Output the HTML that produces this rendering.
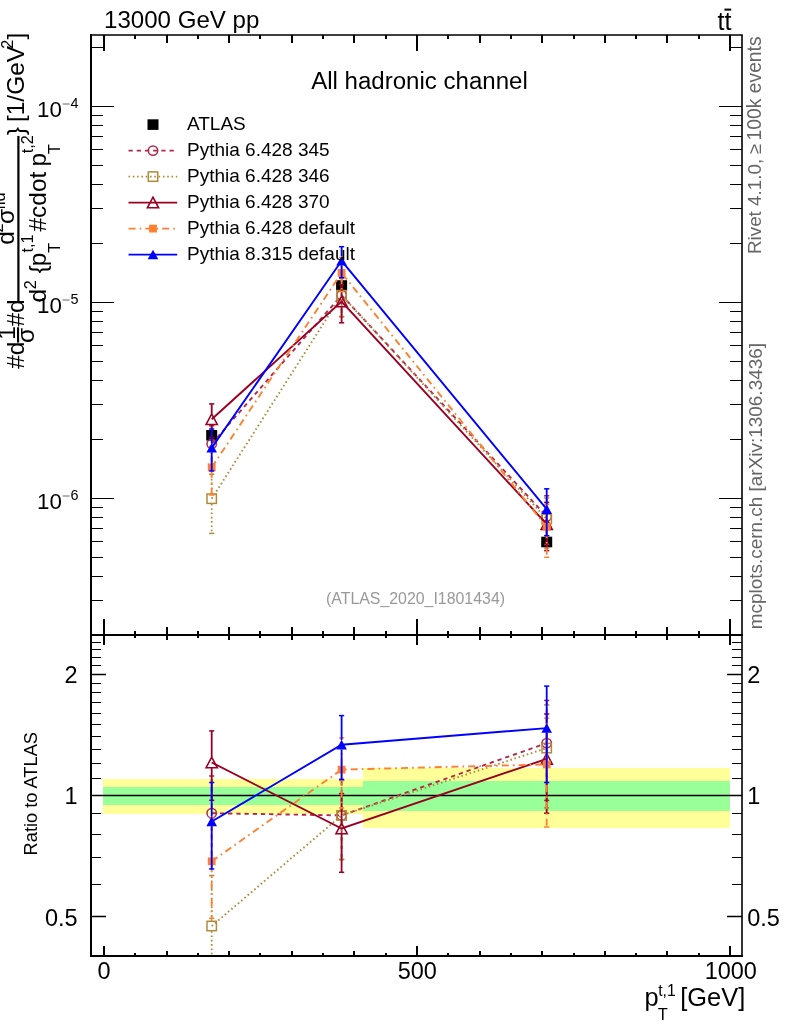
<!DOCTYPE html>
<html lang="en"><head><meta charset="utf-8"><title>ATLAS_2020_I1801434 - All hadronic channel</title>
<style>html,body{margin:0;padding:0;background:#fff}svg{display:block}text{font-family:"Liberation Sans", Arial, Helvetica, sans-serif;fill:#000}</style>
</head><body>
<svg width="786" height="1024" viewBox="0 0 786 1024">
<rect x="0" y="0" width="786" height="1024" fill="#fff"/>
<defs>
<clipPath id="cm"><rect x="91.0" y="35.0" width="651.0" height="600.0"/></clipPath>
<clipPath id="cr"><rect x="91.0" y="635.0" width="651.0" height="321.0"/></clipPath>
</defs>
<g shape-rendering="crispEdges">
<rect x="103" y="779" width="260" height="34.7" fill="#ffff99"/>
<rect x="363" y="768" width="367" height="59.8" fill="#ffff99"/>
<rect x="103" y="787" width="260" height="17.5" fill="#99ff99"/>
<rect x="363" y="781" width="367" height="29.7" fill="#99ff99"/>
</g>
<line x1="91.0" y1="795.5" x2="742.0" y2="795.5" stroke="#000" stroke-width="1.4"/>
<g id="main-data">
<rect x="206.2" y="430.0" width="11" height="10.6" fill="#000"/>
<rect x="336.1" y="280.2" width="11" height="10.6" fill="#000"/>
<rect x="541.2" y="536.7" width="11" height="10.6" fill="#000"/>
<g clip-path="url(#cm)">
<polyline points="211.7,443.9 341.6,295.2 546.7,516.5" fill="none" stroke="#b0284c" stroke-width="1.9" stroke-dasharray="4.3 3.9"/>
<line x1="211.7" y1="438.7" x2="211.7" y2="425.8" stroke="#b0284c" stroke-width="1.8" stroke-dasharray="4.3 3.9"/>
<line x1="211.7" y1="449.1" x2="211.7" y2="466.9" stroke="#b0284c" stroke-width="1.8" stroke-dasharray="4.3 3.9"/>
<line x1="209.1" y1="425.8" x2="214.3" y2="425.8" stroke="#b0284c" stroke-width="1.5"/>
<line x1="209.1" y1="466.9" x2="214.3" y2="466.9" stroke="#b0284c" stroke-width="1.5"/>
<line x1="341.6" y1="290.0" x2="341.6" y2="278.2" stroke="#b0284c" stroke-width="1.8" stroke-dasharray="4.3 3.9"/>
<line x1="341.6" y1="300.4" x2="341.6" y2="316.6" stroke="#b0284c" stroke-width="1.8" stroke-dasharray="4.3 3.9"/>
<line x1="339.0" y1="278.2" x2="344.2" y2="278.2" stroke="#b0284c" stroke-width="1.5"/>
<line x1="339.0" y1="316.6" x2="344.2" y2="316.6" stroke="#b0284c" stroke-width="1.5"/>
<line x1="546.7" y1="511.3" x2="546.7" y2="495.8" stroke="#b0284c" stroke-width="1.8" stroke-dasharray="4.3 3.9"/>
<line x1="546.7" y1="521.7" x2="546.7" y2="544.4" stroke="#b0284c" stroke-width="1.8" stroke-dasharray="4.3 3.9"/>
<line x1="544.1" y1="495.8" x2="549.3" y2="495.8" stroke="#b0284c" stroke-width="1.5"/>
<line x1="544.1" y1="544.4" x2="549.3" y2="544.4" stroke="#b0284c" stroke-width="1.5"/>
<circle cx="211.7" cy="443.9" r="4.7" fill="none" stroke="#b0284c" stroke-width="1.5"/>
<circle cx="341.6" cy="295.2" r="4.7" fill="none" stroke="#b0284c" stroke-width="1.5"/>
<circle cx="546.7" cy="516.5" r="4.7" fill="none" stroke="#b0284c" stroke-width="1.5"/>
</g>
<g clip-path="url(#cm)">
<polyline points="211.7,498.7 341.6,295.2 546.7,519.0" fill="none" stroke="#b08a3c" stroke-width="1.9" stroke-dasharray="1.6 2.7"/>
<line x1="211.7" y1="493.5" x2="211.7" y2="474.2" stroke="#b08a3c" stroke-width="1.8" stroke-dasharray="1.6 2.7"/>
<line x1="211.7" y1="503.9" x2="211.7" y2="533.4" stroke="#b08a3c" stroke-width="1.8" stroke-dasharray="1.6 2.7"/>
<line x1="209.1" y1="474.2" x2="214.3" y2="474.2" stroke="#b08a3c" stroke-width="1.5"/>
<line x1="209.1" y1="533.4" x2="214.3" y2="533.4" stroke="#b08a3c" stroke-width="1.5"/>
<line x1="341.6" y1="290.0" x2="341.6" y2="278.2" stroke="#b08a3c" stroke-width="1.8" stroke-dasharray="1.6 2.7"/>
<line x1="341.6" y1="300.4" x2="341.6" y2="316.6" stroke="#b08a3c" stroke-width="1.8" stroke-dasharray="1.6 2.7"/>
<line x1="339.0" y1="278.2" x2="344.2" y2="278.2" stroke="#b08a3c" stroke-width="1.5"/>
<line x1="339.0" y1="316.6" x2="344.2" y2="316.6" stroke="#b08a3c" stroke-width="1.5"/>
<line x1="546.7" y1="513.8" x2="546.7" y2="498.0" stroke="#b08a3c" stroke-width="1.8" stroke-dasharray="1.6 2.7"/>
<line x1="546.7" y1="524.2" x2="546.7" y2="548.0" stroke="#b08a3c" stroke-width="1.8" stroke-dasharray="1.6 2.7"/>
<line x1="544.1" y1="498.0" x2="549.3" y2="498.0" stroke="#b08a3c" stroke-width="1.5"/>
<line x1="544.1" y1="548.0" x2="549.3" y2="548.0" stroke="#b08a3c" stroke-width="1.5"/>
<rect x="207.0" y="494.0" width="9.4" height="9.4" fill="none" stroke="#b08a3c" stroke-width="1.5"/>
<rect x="336.9" y="290.5" width="9.4" height="9.4" fill="none" stroke="#b08a3c" stroke-width="1.5"/>
<rect x="542.0" y="514.3" width="9.4" height="9.4" fill="none" stroke="#b08a3c" stroke-width="1.5"/>
</g>
<g clip-path="url(#cm)">
<polyline points="211.7,419.3 341.6,301.5 546.7,524.2" fill="none" stroke="#990022" stroke-width="1.9"/>
<line x1="211.7" y1="413.7" x2="211.7" y2="403.9" stroke="#990022" stroke-width="1.8"/>
<line x1="211.7" y1="424.9" x2="211.7" y2="437.6" stroke="#990022" stroke-width="1.8"/>
<line x1="209.1" y1="403.9" x2="214.3" y2="403.9" stroke="#990022" stroke-width="1.5"/>
<line x1="209.1" y1="437.6" x2="214.3" y2="437.6" stroke="#990022" stroke-width="1.5"/>
<line x1="341.6" y1="295.9" x2="341.6" y2="284.6" stroke="#990022" stroke-width="1.8"/>
<line x1="341.6" y1="307.1" x2="341.6" y2="322.8" stroke="#990022" stroke-width="1.8"/>
<line x1="339.0" y1="284.6" x2="344.2" y2="284.6" stroke="#990022" stroke-width="1.5"/>
<line x1="339.0" y1="322.8" x2="344.2" y2="322.8" stroke="#990022" stroke-width="1.5"/>
<line x1="546.7" y1="518.6" x2="546.7" y2="502.4" stroke="#990022" stroke-width="1.8"/>
<line x1="546.7" y1="529.8" x2="546.7" y2="550.6" stroke="#990022" stroke-width="1.8"/>
<line x1="544.1" y1="502.4" x2="549.3" y2="502.4" stroke="#990022" stroke-width="1.5"/>
<line x1="544.1" y1="550.6" x2="549.3" y2="550.6" stroke="#990022" stroke-width="1.5"/>
<path d="M206.1 424.5 L217.3 424.5 L211.7 413.9 Z" fill="none" stroke="#990022" stroke-width="1.6"/>
<path d="M336.0 306.7 L347.2 306.7 L341.6 296.1 Z" fill="none" stroke="#990022" stroke-width="1.6"/>
<path d="M541.1 529.4 L552.3 529.4 L546.7 518.8 Z" fill="none" stroke="#990022" stroke-width="1.6"/>
</g>
<g clip-path="url(#cm)">
<polyline points="211.7,467.3 341.6,272.9 546.7,526.9" fill="none" stroke="#ff8030" stroke-width="1.9" stroke-dasharray="7.1 4 1.7 4"/>
<line x1="211.7" y1="463.4" x2="211.7" y2="446.4" stroke="#ff8030" stroke-width="1.8" stroke-dasharray="7.1 4 1.7 4"/>
<line x1="211.7" y1="471.2" x2="211.7" y2="495.0" stroke="#ff8030" stroke-width="1.8" stroke-dasharray="7.1 4 1.7 4"/>
<line x1="209.1" y1="446.4" x2="214.3" y2="446.4" stroke="#ff8030" stroke-width="1.5"/>
<line x1="209.1" y1="495.0" x2="214.3" y2="495.0" stroke="#ff8030" stroke-width="1.5"/>
<line x1="341.6" y1="269.0" x2="341.6" y2="257.5" stroke="#ff8030" stroke-width="1.8" stroke-dasharray="7.1 4 1.7 4"/>
<line x1="341.6" y1="276.8" x2="341.6" y2="291.6" stroke="#ff8030" stroke-width="1.8" stroke-dasharray="7.1 4 1.7 4"/>
<line x1="339.0" y1="257.5" x2="344.2" y2="257.5" stroke="#ff8030" stroke-width="1.5"/>
<line x1="339.0" y1="291.6" x2="344.2" y2="291.6" stroke="#ff8030" stroke-width="1.5"/>
<line x1="546.7" y1="523.0" x2="546.7" y2="504.4" stroke="#ff8030" stroke-width="1.8" stroke-dasharray="7.1 4 1.7 4"/>
<line x1="546.7" y1="530.8" x2="546.7" y2="557.3" stroke="#ff8030" stroke-width="1.8" stroke-dasharray="7.1 4 1.7 4"/>
<line x1="544.1" y1="504.4" x2="549.3" y2="504.4" stroke="#ff8030" stroke-width="1.5"/>
<line x1="544.1" y1="557.3" x2="549.3" y2="557.3" stroke="#ff8030" stroke-width="1.5"/>
<rect x="207.8" y="463.4" width="7.8" height="7.8" fill="#ff8030"/>
<rect x="337.7" y="269.0" width="7.8" height="7.8" fill="#ff8030"/>
<rect x="542.8" y="523.0" width="7.8" height="7.8" fill="#ff8030"/>
</g>
<g clip-path="url(#cm)">
<polyline points="211.7,447.9 341.6,260.8 546.7,509.2" fill="none" stroke="#0000ff" stroke-width="1.9"/>
<line x1="211.7" y1="443.2" x2="211.7" y2="429.0" stroke="#0000ff" stroke-width="1.8"/>
<line x1="211.7" y1="452.6" x2="211.7" y2="471.0" stroke="#0000ff" stroke-width="1.8"/>
<line x1="209.1" y1="429.0" x2="214.3" y2="429.0" stroke="#0000ff" stroke-width="1.5"/>
<line x1="209.1" y1="471.0" x2="214.3" y2="471.0" stroke="#0000ff" stroke-width="1.5"/>
<line x1="341.6" y1="256.1" x2="341.6" y2="246.7" stroke="#0000ff" stroke-width="1.8"/>
<line x1="341.6" y1="265.5" x2="341.6" y2="277.7" stroke="#0000ff" stroke-width="1.8"/>
<line x1="339.0" y1="246.7" x2="344.2" y2="246.7" stroke="#0000ff" stroke-width="1.5"/>
<line x1="339.0" y1="277.7" x2="344.2" y2="277.7" stroke="#0000ff" stroke-width="1.5"/>
<line x1="546.7" y1="504.5" x2="546.7" y2="488.8" stroke="#0000ff" stroke-width="1.8"/>
<line x1="546.7" y1="513.9" x2="546.7" y2="535.7" stroke="#0000ff" stroke-width="1.8"/>
<line x1="544.1" y1="488.8" x2="549.3" y2="488.8" stroke="#0000ff" stroke-width="1.5"/>
<line x1="544.1" y1="535.7" x2="549.3" y2="535.7" stroke="#0000ff" stroke-width="1.5"/>
<path d="M206.4 452.6 L217.0 452.6 L211.7 443.0 Z" fill="#0000ff"/>
<path d="M336.3 265.5 L346.9 265.5 L341.6 255.9 Z" fill="#0000ff"/>
<path d="M541.4 513.9 L552.0 513.9 L546.7 504.3 Z" fill="#0000ff"/>
</g>
</g>
<g id="ratio-data">
<g clip-path="url(#cr)">
<polyline points="211.7,813.2 341.6,815.4 546.7,743.1" fill="none" stroke="#b0284c" stroke-width="1.9" stroke-dasharray="4.3 3.9"/>
<line x1="211.7" y1="808.0" x2="211.7" y2="776.0" stroke="#b0284c" stroke-width="1.8" stroke-dasharray="4.3 3.9"/>
<line x1="211.7" y1="818.4" x2="211.7" y2="860.5" stroke="#b0284c" stroke-width="1.8" stroke-dasharray="4.3 3.9"/>
<line x1="209.1" y1="776.0" x2="214.3" y2="776.0" stroke="#b0284c" stroke-width="1.5"/>
<line x1="209.1" y1="860.5" x2="214.3" y2="860.5" stroke="#b0284c" stroke-width="1.5"/>
<line x1="341.6" y1="810.2" x2="341.6" y2="780.4" stroke="#b0284c" stroke-width="1.8" stroke-dasharray="4.3 3.9"/>
<line x1="341.6" y1="820.6" x2="341.6" y2="859.5" stroke="#b0284c" stroke-width="1.8" stroke-dasharray="4.3 3.9"/>
<line x1="339.0" y1="780.4" x2="344.2" y2="780.4" stroke="#b0284c" stroke-width="1.5"/>
<line x1="339.0" y1="859.5" x2="344.2" y2="859.5" stroke="#b0284c" stroke-width="1.5"/>
<line x1="546.7" y1="737.9" x2="546.7" y2="700.4" stroke="#b0284c" stroke-width="1.8" stroke-dasharray="4.3 3.9"/>
<line x1="546.7" y1="748.3" x2="546.7" y2="800.4" stroke="#b0284c" stroke-width="1.8" stroke-dasharray="4.3 3.9"/>
<line x1="544.1" y1="700.4" x2="549.3" y2="700.4" stroke="#b0284c" stroke-width="1.5"/>
<line x1="544.1" y1="800.4" x2="549.3" y2="800.4" stroke="#b0284c" stroke-width="1.5"/>
<circle cx="211.7" cy="813.2" r="4.7" fill="none" stroke="#b0284c" stroke-width="1.5"/>
<circle cx="341.6" cy="815.4" r="4.7" fill="none" stroke="#b0284c" stroke-width="1.5"/>
<circle cx="546.7" cy="743.1" r="4.7" fill="none" stroke="#b0284c" stroke-width="1.5"/>
</g>
<g clip-path="url(#cr)">
<polyline points="211.7,926.0 341.6,815.4 546.7,748.1" fill="none" stroke="#b08a3c" stroke-width="1.9" stroke-dasharray="1.6 2.7"/>
<line x1="211.7" y1="920.8" x2="211.7" y2="875.5" stroke="#b08a3c" stroke-width="1.8" stroke-dasharray="1.6 2.7"/>
<line x1="211.7" y1="931.2" x2="211.7" y2="997.3" stroke="#b08a3c" stroke-width="1.8" stroke-dasharray="1.6 2.7"/>
<line x1="209.1" y1="875.5" x2="214.3" y2="875.5" stroke="#b08a3c" stroke-width="1.5"/>
<line x1="209.1" y1="997.3" x2="214.3" y2="997.3" stroke="#b08a3c" stroke-width="1.5"/>
<line x1="341.6" y1="810.2" x2="341.6" y2="780.4" stroke="#b08a3c" stroke-width="1.8" stroke-dasharray="1.6 2.7"/>
<line x1="341.6" y1="820.6" x2="341.6" y2="859.5" stroke="#b08a3c" stroke-width="1.8" stroke-dasharray="1.6 2.7"/>
<line x1="339.0" y1="780.4" x2="344.2" y2="780.4" stroke="#b08a3c" stroke-width="1.5"/>
<line x1="339.0" y1="859.5" x2="344.2" y2="859.5" stroke="#b08a3c" stroke-width="1.5"/>
<line x1="546.7" y1="742.9" x2="546.7" y2="704.9" stroke="#b08a3c" stroke-width="1.8" stroke-dasharray="1.6 2.7"/>
<line x1="546.7" y1="753.3" x2="546.7" y2="807.9" stroke="#b08a3c" stroke-width="1.8" stroke-dasharray="1.6 2.7"/>
<line x1="544.1" y1="704.9" x2="549.3" y2="704.9" stroke="#b08a3c" stroke-width="1.5"/>
<line x1="544.1" y1="807.9" x2="549.3" y2="807.9" stroke="#b08a3c" stroke-width="1.5"/>
<rect x="207.0" y="921.3" width="9.4" height="9.4" fill="none" stroke="#b08a3c" stroke-width="1.5"/>
<rect x="336.9" y="810.7" width="9.4" height="9.4" fill="none" stroke="#b08a3c" stroke-width="1.5"/>
<rect x="542.0" y="743.4" width="9.4" height="9.4" fill="none" stroke="#b08a3c" stroke-width="1.5"/>
</g>
<g clip-path="url(#cr)">
<polyline points="211.7,762.5 341.6,828.5 546.7,758.9" fill="none" stroke="#990022" stroke-width="1.9"/>
<line x1="211.7" y1="756.9" x2="211.7" y2="730.9" stroke="#990022" stroke-width="1.8"/>
<line x1="211.7" y1="768.1" x2="211.7" y2="800.3" stroke="#990022" stroke-width="1.8"/>
<line x1="209.1" y1="730.9" x2="214.3" y2="730.9" stroke="#990022" stroke-width="1.5"/>
<line x1="209.1" y1="800.3" x2="214.3" y2="800.3" stroke="#990022" stroke-width="1.5"/>
<line x1="341.6" y1="822.9" x2="341.6" y2="793.6" stroke="#990022" stroke-width="1.8"/>
<line x1="341.6" y1="834.1" x2="341.6" y2="872.3" stroke="#990022" stroke-width="1.8"/>
<line x1="339.0" y1="793.6" x2="344.2" y2="793.6" stroke="#990022" stroke-width="1.5"/>
<line x1="339.0" y1="872.3" x2="344.2" y2="872.3" stroke="#990022" stroke-width="1.5"/>
<line x1="546.7" y1="753.3" x2="546.7" y2="714.0" stroke="#990022" stroke-width="1.8"/>
<line x1="546.7" y1="764.5" x2="546.7" y2="813.2" stroke="#990022" stroke-width="1.8"/>
<line x1="544.1" y1="714.0" x2="549.3" y2="714.0" stroke="#990022" stroke-width="1.5"/>
<line x1="544.1" y1="813.2" x2="549.3" y2="813.2" stroke="#990022" stroke-width="1.5"/>
<path d="M206.1 767.7 L217.3 767.7 L211.7 757.1 Z" fill="none" stroke="#990022" stroke-width="1.6"/>
<path d="M336.0 833.7 L347.2 833.7 L341.6 823.1 Z" fill="none" stroke="#990022" stroke-width="1.6"/>
<path d="M541.1 764.1 L552.3 764.1 L546.7 753.5 Z" fill="none" stroke="#990022" stroke-width="1.6"/>
</g>
<g clip-path="url(#cr)">
<polyline points="211.7,861.3 341.6,769.6 546.7,764.4" fill="none" stroke="#ff8030" stroke-width="1.9" stroke-dasharray="7.1 4 1.7 4"/>
<line x1="211.7" y1="857.4" x2="211.7" y2="818.3" stroke="#ff8030" stroke-width="1.8" stroke-dasharray="7.1 4 1.7 4"/>
<line x1="211.7" y1="865.2" x2="211.7" y2="918.3" stroke="#ff8030" stroke-width="1.8" stroke-dasharray="7.1 4 1.7 4"/>
<line x1="209.1" y1="818.3" x2="214.3" y2="818.3" stroke="#ff8030" stroke-width="1.5"/>
<line x1="209.1" y1="918.3" x2="214.3" y2="918.3" stroke="#ff8030" stroke-width="1.5"/>
<line x1="341.6" y1="765.7" x2="341.6" y2="737.9" stroke="#ff8030" stroke-width="1.8" stroke-dasharray="7.1 4 1.7 4"/>
<line x1="341.6" y1="773.5" x2="341.6" y2="808.0" stroke="#ff8030" stroke-width="1.8" stroke-dasharray="7.1 4 1.7 4"/>
<line x1="339.0" y1="737.9" x2="344.2" y2="737.9" stroke="#ff8030" stroke-width="1.5"/>
<line x1="339.0" y1="808.0" x2="344.2" y2="808.0" stroke="#ff8030" stroke-width="1.5"/>
<line x1="546.7" y1="760.5" x2="546.7" y2="718.2" stroke="#ff8030" stroke-width="1.8" stroke-dasharray="7.1 4 1.7 4"/>
<line x1="546.7" y1="768.3" x2="546.7" y2="827.0" stroke="#ff8030" stroke-width="1.8" stroke-dasharray="7.1 4 1.7 4"/>
<line x1="544.1" y1="718.2" x2="549.3" y2="718.2" stroke="#ff8030" stroke-width="1.5"/>
<line x1="544.1" y1="827.0" x2="549.3" y2="827.0" stroke="#ff8030" stroke-width="1.5"/>
<rect x="207.8" y="857.4" width="7.8" height="7.8" fill="#ff8030"/>
<rect x="337.7" y="765.7" width="7.8" height="7.8" fill="#ff8030"/>
<rect x="542.8" y="760.5" width="7.8" height="7.8" fill="#ff8030"/>
</g>
<g clip-path="url(#cr)">
<polyline points="211.7,821.5 341.6,744.7 546.7,728.1" fill="none" stroke="#0000ff" stroke-width="1.9"/>
<line x1="211.7" y1="816.8" x2="211.7" y2="782.5" stroke="#0000ff" stroke-width="1.8"/>
<line x1="211.7" y1="826.2" x2="211.7" y2="869.0" stroke="#0000ff" stroke-width="1.8"/>
<line x1="209.1" y1="782.5" x2="214.3" y2="782.5" stroke="#0000ff" stroke-width="1.5"/>
<line x1="209.1" y1="869.0" x2="214.3" y2="869.0" stroke="#0000ff" stroke-width="1.5"/>
<line x1="341.6" y1="740.0" x2="341.6" y2="715.6" stroke="#0000ff" stroke-width="1.8"/>
<line x1="341.6" y1="749.4" x2="341.6" y2="779.4" stroke="#0000ff" stroke-width="1.8"/>
<line x1="339.0" y1="715.6" x2="344.2" y2="715.6" stroke="#0000ff" stroke-width="1.5"/>
<line x1="339.0" y1="779.4" x2="344.2" y2="779.4" stroke="#0000ff" stroke-width="1.5"/>
<line x1="546.7" y1="723.4" x2="546.7" y2="686.1" stroke="#0000ff" stroke-width="1.8"/>
<line x1="546.7" y1="732.8" x2="546.7" y2="782.5" stroke="#0000ff" stroke-width="1.8"/>
<line x1="544.1" y1="686.1" x2="549.3" y2="686.1" stroke="#0000ff" stroke-width="1.5"/>
<line x1="544.1" y1="782.5" x2="549.3" y2="782.5" stroke="#0000ff" stroke-width="1.5"/>
<path d="M206.4 826.2 L217.0 826.2 L211.7 816.6 Z" fill="#0000ff"/>
<path d="M336.3 749.4 L346.9 749.4 L341.6 739.8 Z" fill="#0000ff"/>
<path d="M541.4 732.8 L552.0 732.8 L546.7 723.2 Z" fill="#0000ff"/>
</g>
</g>
<g stroke="#000" fill="none">
<path d="M91.0 35.0 V956.0 H742.0 M91.0 635.0 H742.0" stroke-width="2" stroke-linecap="square"/>
<path d="M91.0 35.0 H742.0 V956.0" stroke-width="1.6" stroke-linecap="square"/>
<path d="M104.0 35.0 v16.0 M104.0 619.0 v26.0 M104.0 946.0 v10.0 M135.0 35.0 v4.0 M135.0 631.0 v6.6 M135.0 953.4 v2.6 M167.0 35.0 v8.0 M167.0 627.0 v13.0 M167.0 951.0 v5.0 M198.0 35.0 v4.0 M198.0 631.0 v6.6 M198.0 953.4 v2.6 M229.0 35.0 v8.0 M229.0 627.0 v13.0 M229.0 951.0 v5.0 M260.0 35.0 v4.0 M260.0 631.0 v6.6 M260.0 953.4 v2.6 M292.0 35.0 v8.0 M292.0 627.0 v13.0 M292.0 951.0 v5.0 M323.0 35.0 v4.0 M323.0 631.0 v6.6 M323.0 953.4 v2.6 M354.0 35.0 v8.0 M354.0 627.0 v13.0 M354.0 951.0 v5.0 M386.0 35.0 v4.0 M386.0 631.0 v6.6 M386.0 953.4 v2.6 M417.0 35.0 v16.0 M417.0 619.0 v26.0 M417.0 946.0 v10.0 M448.0 35.0 v4.0 M448.0 631.0 v6.6 M448.0 953.4 v2.6 M480.0 35.0 v8.0 M480.0 627.0 v13.0 M480.0 951.0 v5.0 M511.0 35.0 v4.0 M511.0 631.0 v6.6 M511.0 953.4 v2.6 M542.0 35.0 v8.0 M542.0 627.0 v13.0 M542.0 951.0 v5.0 M574.0 35.0 v4.0 M574.0 631.0 v6.6 M574.0 953.4 v2.6 M605.0 35.0 v8.0 M605.0 627.0 v13.0 M605.0 951.0 v5.0 M636.0 35.0 v4.0 M636.0 631.0 v6.6 M636.0 953.4 v2.6 M667.0 35.0 v8.0 M667.0 627.0 v13.0 M667.0 951.0 v5.0 M699.0 35.0 v4.0 M699.0 631.0 v6.6 M699.0 953.4 v2.6 M730.0 35.0 v16.0 M730.0 619.0 v26.0 M730.0 946.0 v10.0" stroke-width="2" shape-rendering="crispEdges"/>
<path d="M91.0 600.5 h12.0 M742.0 600.5 h-12.0 M91.0 576.5 h12.0 M742.0 576.5 h-12.0 M91.0 557.5 h12.0 M742.0 557.5 h-12.0 M91.0 541.5 h12.0 M742.0 541.5 h-12.0 M91.0 528.5 h12.0 M742.0 528.5 h-12.0 M91.0 517.5 h12.0 M742.0 517.5 h-12.0 M91.0 507.5 h12.0 M742.0 507.5 h-12.0 M91.0 498.5 h23.0 M742.0 498.5 h-23.0 M91.0 439.5 h12.0 M742.0 439.5 h-12.0 M91.0 404.5 h12.0 M742.0 404.5 h-12.0 M91.0 380.5 h12.0 M742.0 380.5 h-12.0 M91.0 361.5 h12.0 M742.0 361.5 h-12.0 M91.0 345.5 h12.0 M742.0 345.5 h-12.0 M91.0 332.5 h12.0 M742.0 332.5 h-12.0 M91.0 321.5 h12.0 M742.0 321.5 h-12.0 M91.0 311.5 h12.0 M742.0 311.5 h-12.0 M91.0 302.5 h23.0 M742.0 302.5 h-23.0 M91.0 243.5 h12.0 M742.0 243.5 h-12.0 M91.0 208.5 h12.0 M742.0 208.5 h-12.0 M91.0 184.5 h12.0 M742.0 184.5 h-12.0 M91.0 165.5 h12.0 M742.0 165.5 h-12.0 M91.0 149.5 h12.0 M742.0 149.5 h-12.0 M91.0 136.5 h12.0 M742.0 136.5 h-12.0 M91.0 125.5 h12.0 M742.0 125.5 h-12.0 M91.0 115.5 h12.0 M742.0 115.5 h-12.0 M91.0 106.5 h23.0 M742.0 106.5 h-23.0 M91.0 47.5 h12.0 M742.0 47.5 h-12.0" stroke-width="1" shape-rendering="crispEdges"/>
<path d="M91.0 916.5 h10.0 M742.0 916.5 h-10.0 M91.0 884.5 h10.0 M742.0 884.5 h-10.0 M91.0 857.5 h10.0 M742.0 857.5 h-10.0 M91.0 834.5 h10.0 M742.0 834.5 h-10.0 M91.0 813.5 h10.0 M742.0 813.5 h-10.0 M91.0 795.5 h10.0 M742.0 795.5 h-10.0 M91.0 778.5 h10.0 M742.0 778.5 h-10.0 M91.0 763.5 h10.0 M742.0 763.5 h-10.0 M91.0 749.5 h10.0 M742.0 749.5 h-10.0 M91.0 736.5 h10.0 M742.0 736.5 h-10.0 M91.0 724.5 h10.0 M742.0 724.5 h-10.0 M91.0 713.5 h10.0 M742.0 713.5 h-10.0 M91.0 702.5 h10.0 M742.0 702.5 h-10.0 M91.0 692.5 h10.0 M742.0 692.5 h-10.0 M91.0 683.5 h10.0 M742.0 683.5 h-10.0 M91.0 674.5 h10.0 M742.0 674.5 h-10.0 M91.0 665.5 h10.0 M742.0 665.5 h-10.0 M91.0 657.5 h10.0 M742.0 657.5 h-10.0 M91.0 649.5 h10.0 M742.0 649.5 h-10.0 M91.0 642.5 h10.0 M742.0 642.5 h-10.0" stroke-width="1" shape-rendering="crispEdges"/>
<path d="M91.0 916.5 h15 M742.0 916.5 h-15 M91.0 674.5 h15 M742.0 674.5 h-15" stroke-width="1.4"/>
</g>
<g font-size="23.5">
<text x="104" y="28.2" font-size="24.1">13000 GeV pp</text>
<text x="717.6" y="29.5" font-size="25">tt</text>
<rect x="724.4" y="8.6" width="6.8" height="2" fill="#000"/>
<text x="419.5" y="88.6" text-anchor="middle" font-size="24.05">All hadronic channel</text>
<text x="104" y="978.6" text-anchor="middle">0</text>
<text x="417.3" y="978.6" text-anchor="middle">500</text>
<text x="730.8" y="978.6" text-anchor="middle">1000</text>
<text x="77.6" y="682.8" text-anchor="end">2</text>
<text x="747.2" y="682.8">2</text>
<text x="77.6" y="804.2" text-anchor="end">1</text>
<text x="747.2" y="804.2">1</text>
<text x="77.6" y="925.6" text-anchor="end">0.5</text>
<text x="747.2" y="925.6">0.5</text>
<text x="61.8" y="117.0" text-anchor="end" font-size="22.3">10</text>
<rect x="62.6" y="103.5" width="7" height="1" fill="#666"/>
<text x="70.6" y="107.8" font-size="14.4">4</text>
<text x="61.8" y="313.0" text-anchor="end" font-size="22.3">10</text>
<rect x="62.6" y="299.5" width="7" height="1" fill="#666"/>
<text x="70.6" y="303.8" font-size="14.4">5</text>
<text x="61.8" y="509.0" text-anchor="end" font-size="22.3">10</text>
<rect x="62.6" y="495.5" width="7" height="1" fill="#666"/>
<text x="70.6" y="499.8" font-size="14.4">6</text>
</g>
<text x="644.4" y="1006" font-size="25.4">p</text>
<text x="658.2" y="995.5" font-size="15.8">t,1</text>
<text x="657.8" y="1019.9" font-size="16.5">T</text>
<text x="680.3" y="1006" font-size="25.4">[GeV]</text>
<text x="415.5" y="603.6" font-size="15.9" text-anchor="middle" style="fill:#999">(ATLAS_2020_I1801434)</text>
<g transform="translate(761.2 0) rotate(-90)" style="fill:#666">
<text x="-254.05" y="0" font-size="18.83" style="fill:#666">Rivet 4.1.0,</text>
<text x="-154.3" y="0" font-size="18.4" style="fill:#666">≥</text>
<text x="-140.4" y="0" font-size="19.3" style="fill:#666">100k events</text>
</g>
<text transform="translate(761.7 629.3) rotate(-90)" font-size="18.96" style="fill:#666">mcplots.cern.ch [arXiv:1306.3436]</text>
<text transform="translate(36.6 793.7) rotate(-90)" font-size="18.25" text-anchor="middle">Ratio to ATLAS</text>
<g transform="translate(0 368.7) rotate(-90)" font-size="24.5">
<text x="-0.1" y="24.2">#d</text>
<text x="29" y="15">1</text>
<rect x="26.1" y="17" width="15.3" height="2.1" fill="#000"/>
<text x="25.7" y="34.2">σ</text>
<text x="42.1" y="24.2">#d</text>
<rect x="67.7" y="17.3" width="165.1" height="2.2" fill="#000"/>
<text x="124" y="14.2">d</text>
<text x="136.3" y="2.9" font-size="16.2">2</text>
<text x="144.7" y="14.2">σ</text>
<text x="159.1" y="5" font-size="16.2">fid</text>
<text x="66.1" y="46.2">d</text>
<text x="79.5" y="35.8" font-size="16.2">2</text>
<text x="95.3" y="46.2">{</text>
<text x="102.4" y="46.2">p</text>
<text x="116.1" y="33.1" font-size="16.2">t,1</text>
<text x="115.9" y="60" font-size="16.2">T</text>
<text x="137.1" y="46.2">#cdot</text>
<text x="202.2" y="46.2">p</text>
<text x="215.4" y="33.1" font-size="16.2">t,2</text>
<text x="214.8" y="60" font-size="16.2">T</text>
<text x="233.4" y="24.2">}</text>
<text x="246.6" y="24.2">[1/GeV</text>
<text x="319.9" y="12.7" font-size="16.2">2</text>
<text x="329.2" y="24.2">]</text>
</g>
<g id="legend">
<rect x="147.5" y="119.3" width="11" height="10.6" fill="#000"/>
<text x="187" y="129.8" font-size="19">ATLAS</text>
<line x1="128.5" y1="150.6" x2="177.2" y2="150.6" stroke="#b0284c" stroke-width="1.55" stroke-dasharray="4.3 3.9"/>
<circle cx="153.0" cy="150.6" r="4.7" fill="none" stroke="#b0284c" stroke-width="1.5"/>
<text x="187" y="156.2" font-size="19">Pythia 6.428 345</text>
<line x1="128.5" y1="176.6" x2="177.2" y2="176.6" stroke="#b08a3c" stroke-width="1.55" stroke-dasharray="1.6 2.7"/>
<rect x="148.3" y="171.9" width="9.4" height="9.4" fill="none" stroke="#b08a3c" stroke-width="1.5"/>
<text x="187" y="182.2" font-size="19">Pythia 6.428 346</text>
<line x1="128.5" y1="202.6" x2="177.2" y2="202.6" stroke="#990022" stroke-width="1.55"/>
<path d="M147.4 207.8 L158.6 207.8 L153.0 197.2 Z" fill="none" stroke="#990022" stroke-width="1.6"/>
<text x="187" y="208.2" font-size="19">Pythia 6.428 370</text>
<line x1="128.5" y1="228.6" x2="177.2" y2="228.6" stroke="#ff8030" stroke-width="1.55" stroke-dasharray="7.1 4 1.7 4"/>
<rect x="149.1" y="224.7" width="7.8" height="7.8" fill="#ff8030"/>
<text x="187" y="234.2" font-size="19">Pythia 6.428 default</text>
<line x1="128.5" y1="254.6" x2="177.2" y2="254.6" stroke="#0000ff" stroke-width="1.55"/>
<path d="M147.7 259.3 L158.3 259.3 L153.0 249.7 Z" fill="#0000ff"/>
<text x="187" y="260.2" font-size="19">Pythia 8.315 default</text>
</g>
</svg>
</body></html>
